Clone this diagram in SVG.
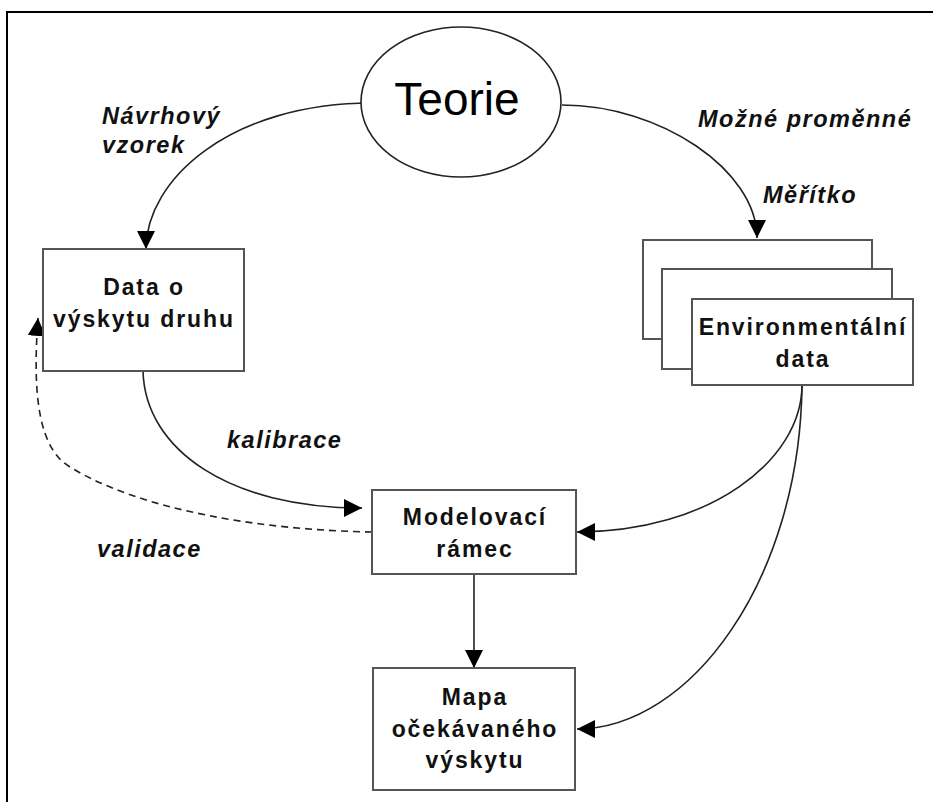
<svg xmlns="http://www.w3.org/2000/svg" width="933" height="802" viewBox="0 0 933 802">
<style>
.box{fill:#fff;stroke:#555;stroke-width:2}
.node{font-family:"Liberation Sans",Arial,sans-serif;font-weight:bold;font-size:23px;letter-spacing:1.9px;text-anchor:middle;fill:#111}
.lbl{font-family:"Liberation Sans",Arial,sans-serif;font-weight:bold;font-style:italic;font-size:23.5px;letter-spacing:1.5px;fill:#111}
.con{fill:none;stroke:#222;stroke-width:1.6}
.dash{stroke-dasharray:7 5}
</style>
<defs>
<marker id="ah" markerUnits="userSpaceOnUse" markerWidth="18" markerHeight="18" refX="18" refY="9" orient="auto" viewBox="0 0 18 18">
<path d="M0,0 L18,9 L0,18 z" fill="#000"/>
</marker>
</defs>
<rect x="0" y="0" width="933" height="802" fill="#fff"/>
<rect x="7" y="12" width="940" height="800" fill="none" stroke="#000" stroke-width="2"/>

<g id="connectors">
<path class="con" d="M372 103 C230 103,146 180,146 249" marker-end="url(#ah)"/>
<path class="con" d="M562 105 C660 105,757 170,757 238" marker-end="url(#ah)"/>
<path class="con" d="M143 371 C145 450,230 508,362 508" marker-end="url(#ah)"/>
<path class="con dash" d="M372 532 C260 530,140 510,70 467 C40 449,32 400,38 318" marker-end="url(#ah)"/>
<path class="con" d="M802 385 C802 460,710 532,577 532" marker-end="url(#ah)"/>
<path class="con" d="M802 385 C800 580,690 729,577 729" marker-end="url(#ah)"/>
<path class="con" d="M474 574 L474 668" marker-end="url(#ah)"/>
</g>

<g id="teorie">
<ellipse cx="461" cy="102" rx="100" ry="75" fill="#fff" stroke="#222" stroke-width="1.6"/>
<text x="457" y="115" font-family="'Liberation Sans',Arial,sans-serif" font-size="46" text-anchor="middle" fill="#000">Teorie</text>
</g>

<g id="data-vyskytu">
<rect class="box" x="43" y="249" width="201" height="122"/>
<text class="node" x="144" y="295">Data o</text>
<text class="node" x="144" y="327">výskytu druhu</text>
</g>

<g id="environmentalni-data">
<rect class="box" x="643" y="240" width="229" height="99"/>
<rect class="box" x="662" y="269" width="230" height="100"/>
<rect class="box" x="692" y="299" width="221" height="86"/>
<text class="node" x="803" y="335">Environmentální</text>
<text class="node" x="803" y="367">data</text>
</g>

<g id="modelovaci-ramec">
<rect class="box" x="372" y="490" width="204" height="84"/>
<text class="node" x="475" y="525">Modelovací</text>
<text class="node" x="475" y="557">rámec</text>
</g>

<g id="mapa">
<rect class="box" x="373" y="668" width="202" height="122"/>
<text class="node" x="475" y="705">Mapa</text>
<text class="node" x="475" y="737">očekávaného</text>
<text class="node" x="475" y="768">výskytu</text>
</g>

<g id="labels">
<text class="lbl" x="102" y="124">Návrhový</text>
<text class="lbl" x="102" y="153">vzorek</text>
<text class="lbl" x="698" y="127">Možné proměnné</text>
<text class="lbl" x="763" y="203">Měřítko</text>
<text class="lbl" x="227" y="448">kalibrace</text>
<text class="lbl" x="97" y="557">validace</text>
</g>
</svg>
